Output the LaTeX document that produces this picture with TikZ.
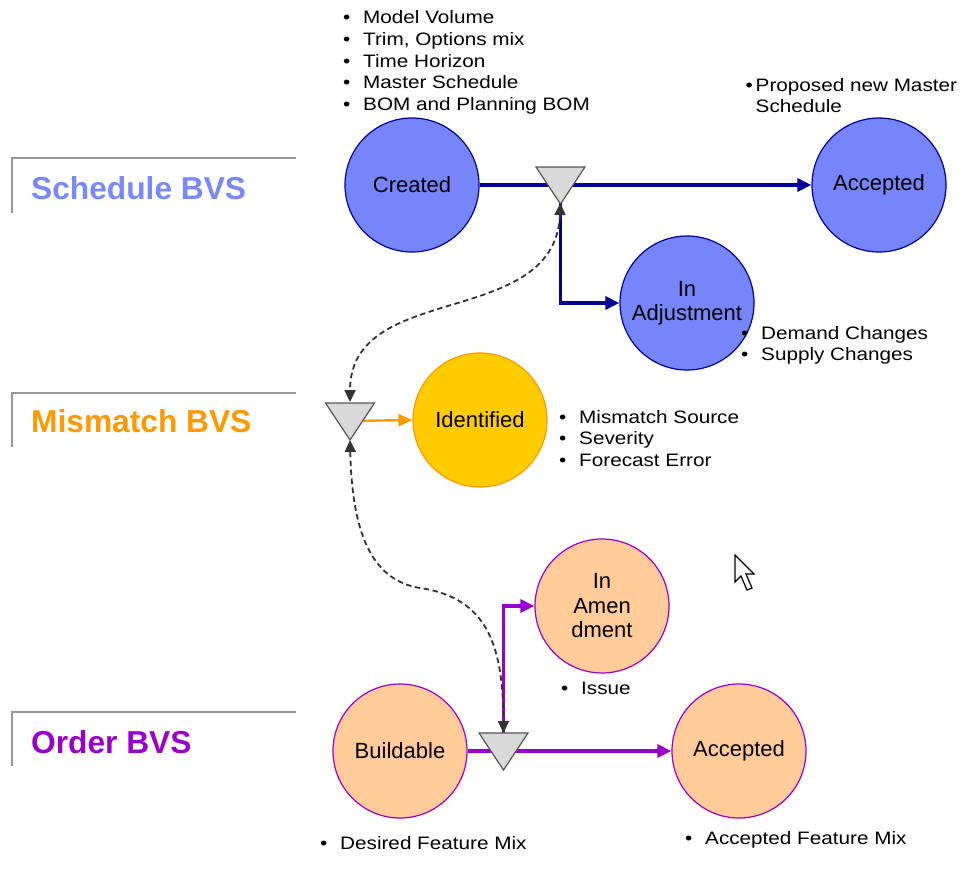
\documentclass[tikz,border=0pt]{standalone}
\usepackage{fontspec}
\setmainfont{Liberation Sans}
\newfontfamily\notefont{Liberation Sans}[FakeStretch=1.15]
\usetikzlibrary{arrows.meta}
\definecolor{schedfill}{RGB}{118,134,250}
\definecolor{schedline}{RGB}{0,0,153}
\definecolor{schedlabel}{RGB}{122,136,255}
\definecolor{misfill}{RGB}{255,204,0}
\definecolor{misline}{RGB}{255,153,0}
\definecolor{ordfill}{RGB}{255,204,153}
\definecolor{ordline}{RGB}{153,0,204}
\definecolor{gatefill}{RGB}{217,217,217}
\definecolor{gateline}{RGB}{85,85,85}
\definecolor{framegray}{RGB}{150,150,150}
\newcommand{\bul}[1]{\makebox[20pt][l]{\textbullet}#1}
\begin{document}
\begin{tikzpicture}[x=1pt,y=-1pt,
    state/.style={circle,minimum size=134pt,inner sep=0pt,line width=1.2pt,
      align=center,font=\fontsize{22}{24.5}\selectfont},
    sched/.style={state,draw=schedline,fill=schedfill},
    mism/.style={state,draw=misline,fill=misfill},
    ord/.style={state,draw=ordline,fill=ordfill},
    note/.style={anchor=west,inner sep=0pt,align=left,font=\notefont\fontsize{18}{21.6}\selectfont},
    bvs/.style={anchor=west,inner sep=0pt,font=\bfseries\fontsize{31.7}{34}\selectfont},
    frame/.style={framegray,line width=2.2pt},
    gate/.style={fill=gatefill,draw=gateline,line width=1.2pt,line join=miter},
    link/.style={line width=3.2pt,-{Triangle[length=14pt,width=13pt]}},
    dep/.style={black!80,line width=1.8pt,dash pattern=on 5.5pt off 3.5pt,
      {Triangle[length=12pt,width=11pt]}-{Triangle[length=12pt,width=11pt]}}]
\useasboundingbox (0,0) rectangle (961,873);

% lane labels
\draw[frame] (12,213) -- (12,158) -- (296,158);
\draw[frame] (12,447) -- (12,393) -- (296,393);
\draw[frame] (12,766) -- (12,712) -- (296,712);
\node[bvs,schedlabel] (schedlbl) at (31,188) {Schedule BVS};
\node[bvs,misline] (mislbl) at (31,421) {Mismatch BVS};
\node[bvs,ordline] (ordlbl) at (31,742) {Order BVS};

% states
\node[sched] (created) at (412,185) {Created};
\node[sched] (sacc) at (879,185) {Accepted};
\node[sched] (adjust) at (687,303) {In\\Adjustment};
\node[mism] (ident) at (480,420) {Identified};
\node[ord] (amend) at (602,606) {In\\Amen\\dment};
\node[ord] (build) at (400,751) {Buildable};
\node[ord] (oacc) at (739,751) {Accepted};

% gates
\coordinate (g1) at (560.5,185);
\coordinate (g1t) at (560.5,167);
\coordinate (g1b) at (560.5,203);
\coordinate (g2) at (350,421);
\coordinate (g2t) at (350,402);
\coordinate (g2b) at (350,440);
\coordinate (g3) at (503.5,751);
\coordinate (g3t) at (503.5,733);
\coordinate (g3b) at (503.5,770);

% flows
\draw[link,schedline] (created.east) -- (sacc.west);
\draw[link,schedline] (g1b) |- (adjust.west);
\draw[line width=2.4pt,misline,-{Triangle[length=14pt,width=12pt]}] (g2) -- (ident.west);
\draw[link,ordline] (build.east) -- (oacc.west);
\draw[link,ordline] (g3t) |- (amend.west);

% dependencies
\draw[dep] (g1b) .. controls (555,330) and (350,280) .. (g2t);
\draw[dep] (g2b) .. controls (352,530) and (370,580) .. (420,588)
  .. controls (490,598) and (503,650) .. (g3t);

\foreach \g in {g1,g2,g3}
  \draw[gate] (\g) ++(-24.5,-18) -- ++(49,0) -- ++(-24.5,37) -- cycle;

% notes
\node[note] (n1) at (343,62.5) {\bul{Model Volume}\\\bul{Trim, Options mix}\\\bul{Time Horizon}\\\bul{Master Schedule}\\\bul{BOM and Planning BOM}};
\node[note] (n2) at (745.5,95.5) {\makebox[10pt][l]{\textbullet}Proposed new Master\\\hspace*{10pt}Schedule};
\node[note] (n3) at (741,345.5) {\bul{Demand Changes}\\\bul{Supply Changes}};
\node[note] (n4) at (559,438.5) {\bul{Mismatch Source}\\\bul{Severity}\\\bul{Forecast Error}};
\node[note] (n5) at (561,688) {\bul{Issue}};
\node[note] (n6) at (320,843) {\bul{Desired Feature Mix}};
\node[note] (n7) at (685,840) {\bul{Accepted Feature Mix}};

% pointer
\draw[fill=white,line width=1.2pt,line join=miter] (735,555) -- (735,582) -- (741,576) -- (747,590)
  -- (752,588) -- (746,574) -- (754,574) -- cycle;
\end{tikzpicture}
\end{document}
